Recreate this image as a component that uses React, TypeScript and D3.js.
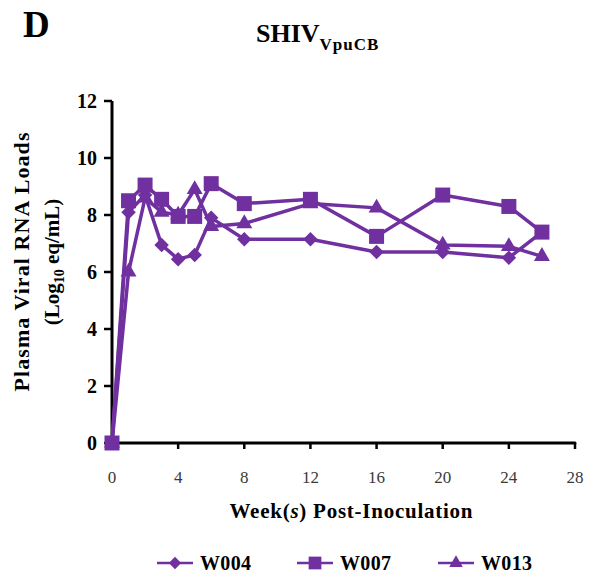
import React from "react";
import * as d3 from "d3";

// Weeks after inoculation at which plasma viral RNA was measured
const weeks = [0, 1, 2, 3, 4, 5, 6, 8, 12, 16, 20, 24, 26];

// Log10 RNA copies per mL for each animal
const w004 = [0, 8.1, 8.7, 6.95, 6.45, 6.6, 7.9, 7.15, 7.15, 6.7, 6.7, 6.5, 7.4];
const w007 = [0, 8.5, 9.05, 8.55, 7.95, 7.95, 9.1, 8.4, 8.55, 7.25, 8.7, 8.3, 7.4];
const w013 = [0, 6.0, 8.6, 8.1, 8.0, 8.9, 7.6, 7.7, 8.4, 8.25, 6.95, 6.9, 6.55];

const xTicks = [0, 4, 8, 12, 16, 20, 24, 28];
const yTicks = [0, 2, 4, 6, 8, 10, 12];

const PURPLE = "#7030A0";
const SERIF = "'Liberation Serif', 'Times New Roman', serif";

type Shape = "diamond" | "square" | "triangle";

const series: { name: string; values: number[]; shape: Shape }[] = [
  { name: "W013", values: w013, shape: "triangle" },
  { name: "W004", values: w004, shape: "diamond" },
  { name: "W007", values: w007, shape: "square" },
];
const legendOrder = ["W004", "W007", "W013"];

const squarePath = d3.symbol(d3.symbolSquare, 225)()!;
const diamondPath = d3.symbol(d3.symbolSquare, 105)()!;
const trianglePath = d3.symbol(d3.symbolTriangle, 110)()!;

function Marker({ shape, x, y, scale = 1 }: { shape: Shape; x: number; y: number; scale?: number }) {
  const d = shape === "square" ? squarePath : shape === "diamond" ? diamondPath : trianglePath;
  const rot = shape === "diamond" ? " rotate(45)" : "";
  return <path d={d} fill={PURPLE} transform={`translate(${x},${y})${rot} scale(${scale})`} />;
}

export default function App() {
  const x = d3.scaleLinear().domain([0, 28]).range([112, 575]);
  const y = d3.scaleLinear().domain([0, 12]).range([443, 101]);
  const line = d3
    .line<number>()
    .x((_, i) => x(weeks[i]))
    .y((v) => y(v));

  const legendX = [157, 297, 438];

  return (
    <svg
      width={596}
      height={577}
      style={{ position: "absolute", left: 0, top: 0, background: "#fff" }}
      fontFamily={SERIF}
    >
      {/* panel letter and title */}
      <text x={23} y={37} fontSize={37} fontWeight="bold" fill="#000">D</text>
      <text x={256} y={42} fontSize={26} fontWeight="bold" fill="#000">
        SHIV
        <tspan fontSize={17} dy={8} letterSpacing={1}>VpuCB</tspan>
      </text>

      {/* y axis */}
      <line x1={112} x2={112} y1={y(12)} y2={y(0)} stroke="#000" strokeWidth={3} />
      {yTicks.map((t) => (
        <g key={t}>
          <line x1={104} x2={112} y1={y(t)} y2={y(t)} stroke="#000" strokeWidth={2.5} />
          <text x={97} y={y(t)} dy="0.35em" textAnchor="end" fontSize={20} fontWeight="bold" fill="#000">
            {t}
          </text>
        </g>
      ))}

      {/* x axis */}
      <line x1={x(0)} x2={x(28)} y1={y(0)} y2={y(0)} stroke="#000" strokeWidth={3} strokeLinecap="round" />
      {xTicks.map((t) => (
        <g key={t}>
          <line x1={x(t)} x2={x(t)} y1={y(0)} y2={y(0) + 6} stroke="#000" strokeWidth={2.5} />
          <text x={x(t)} y={483} textAnchor="middle" fontSize={17} fill="#3a3a3a">
            {t}
          </text>
        </g>
      ))}

      {/* axis titles */}
      <text
        transform="translate(29,262) rotate(-90)"
        textAnchor="middle"
        fontSize={22}
        fontWeight="bold"
        textLength={259}
        lengthAdjust="spacing"
        fill="#000"
      >
        Plasma Viral RNA Loads
      </text>
      <text transform="translate(59,262) rotate(-90)" textAnchor="middle" fontSize={21} fontWeight="bold" fill="#000">
        (Log<tspan fontSize={14} dy={5}>10</tspan>
        <tspan dy={-5}> eq/mL)</tspan>
      </text>
      <text x={351} y={518} textAnchor="middle" fontSize={21} fontWeight="bold" fill="#000" textLength={243} lengthAdjust="spacing">
        Week(<tspan fontStyle="italic">s</tspan>) Post-Inoculation
      </text>

      {/* series lines */}
      {series.map((s) => (
        <path key={s.name} d={line(s.values)!} fill="none" stroke={PURPLE} strokeWidth={3.5} strokeLinejoin="round" />
      ))}
      {/* series markers */}
      {series.map((s) =>
        s.values.map((v, i) => <Marker key={`${s.name}-${i}`} shape={s.shape} x={x(weeks[i])} y={y(v)} />)
      )}

      {/* legend */}
      {legendOrder.map((name, i) => {
        const s = series.find((d) => d.name === name)!;
        const lx = legendX[i];
        return (
          <g key={name}>
            <line x1={lx} x2={lx + 36} y1={563} y2={563} stroke={PURPLE} strokeWidth={2.5} />
            <Marker shape={s.shape} x={lx + 18} y={563} scale={0.85} />
            <text x={lx + 43} y={570} fontSize={20} fontWeight="bold" fill="#000" textLength={51} lengthAdjust="spacing">
              {name}
            </text>
          </g>
        );
      })}
    </svg>
  );
}
